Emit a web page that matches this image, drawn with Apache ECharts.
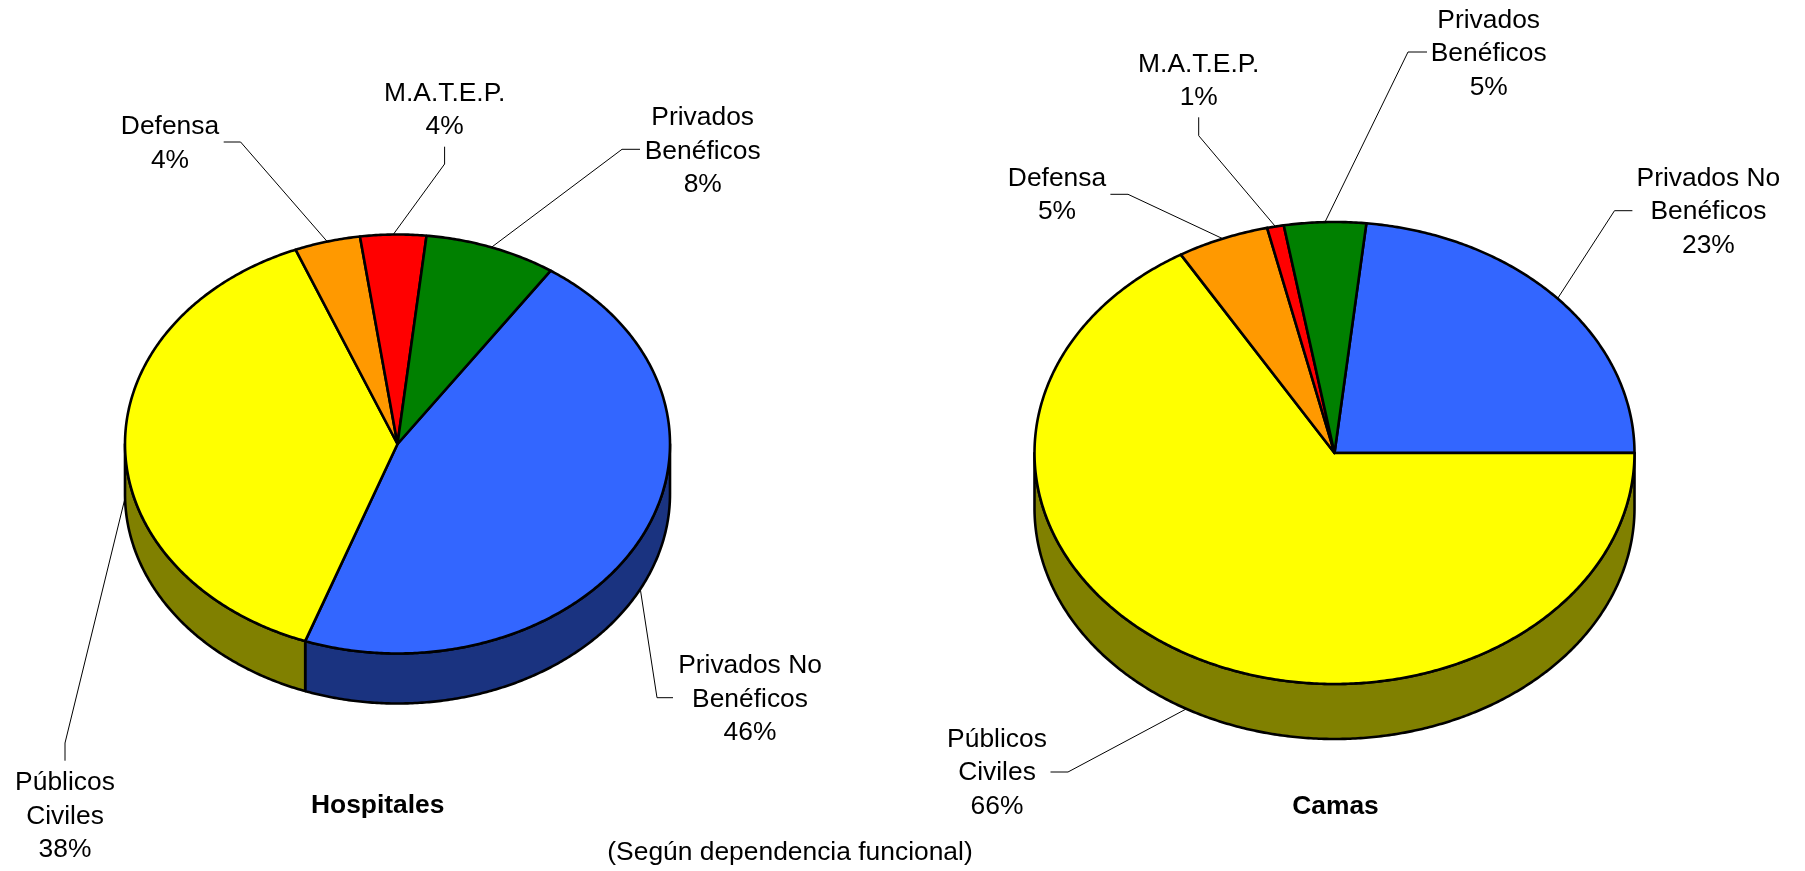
<!DOCTYPE html>
<html>
<head>
<meta charset="utf-8">
<style>html,body{margin:0;padding:0;background:#fff}#c{width:1805px;height:871px}</style>
<script src="https://cdn.jsdelivr.net/npm/echarts@6/dist/echarts.min.js"></script>
</head>
<body>
<div id="c"></div>
<script>
// ---- data ----
const categories = ['Privados No\nBenéficos', 'Públicos\nCiviles', 'Defensa', 'M.A.T.E.P.', 'Privados\nBenéficos'];
const hospitalShares = [46.0, 38.4, 3.9, 3.9, 7.8];
const hospitalLabels = ['46%', '38%', '4%', '4%', '8%'];
const bedShares = [23.3, 66.45, 4.95, 0.9, 4.4];
const bedLabels = ['23%', '66%', '5%', '1%', '5%'];
const chartTitles = ['Hospitales', 'Camas'];
const subtitle = '(Según dependencia funcional)';

// ---- styles and layout ----
const topColors = ['#3366FF', '#FFFF00', '#FF9900', '#FF0000', '#008000'];
const wallColors = ['#1A3380', '#808000', '#804C00', '#800000', '#004000'];
const FONT = '"Liberation Sans", Arial, sans-serif';
const FS = 26.4, LH = 33.5;

const hospitalLayout = {
  cx: 397.5, cy: 444, rx: 272.5, ry: 209.5, depth: 50, startAngle: 55.8,
  labels: [[750, 699.5], [65, 816.5], [170, 143.5], [444.6, 110], [702.7, 151.5]],
  leaders: [
    [[657, 697.7], [673, 697.7]],
    [[65, 743], [65, 760.7]],
    [[240.6, 142], [223.7, 142]],
    [[444.6, 164], [444.6, 146.7]],
    [[622, 149.3], [640, 149.3]]
  ]
};
const bedLayout = {
  cx: 1334.5, cy: 453, rx: 300, ry: 231, depth: 55, startAngle: 83.9,
  labels: [[1708.4, 212], [997, 773], [1057, 195], [1198.7, 81], [1488.7, 54]],
  leaders: [
    [[1614.5, 210.7], [1632.4, 210.7]],
    [[1068, 772], [1050.5, 772]],
    [[1128, 194.3], [1110.4, 194.3]],
    [[1198.7, 135.7], [1198.7, 117.3]],
    [[1408, 52], [1427, 52]]
  ]
};

function arcPoints(L, from, to, dy) {
  const pts = [];
  const steps = Math.max(2, Math.ceil(Math.abs(from - to) * 2));
  for (let i = 0; i <= steps; i++) {
    const a = (from + (to - from) * i / steps) * Math.PI / 180;
    pts.push([L.cx + L.rx * Math.cos(a), L.cy - L.ry * Math.sin(a) + dy]);
  }
  return pts;
}

function makeRenderer(shares, pctLabels, L) {
  const total = shares.reduce((s, v) => s + v, 0);
  const edge = { stroke: '#000', lineWidth: 2.6, lineJoin: 'round' };
  return function (params, api) {
    const i = api.value(1);
    let before = 0;
    for (let k = 0; k < i; k++) before += shares[k];
    const a0 = L.startAngle - before / total * 360;
    const a1 = a0 - api.value(0) / total * 360;
    const mid = (a0 + a1) / 2;
    const children = [];
    // front wall: the part of the slice on the lower half of the ellipse
    for (const [hi, lo] of [[0, -180], [-360, -540]]) {
      const from = Math.min(a0, hi), to = Math.max(a1, lo);
      if (from > to) {
        const pts = arcPoints(L, from, to, 0).concat(arcPoints(L, to, from, L.depth));
        children.push({ type: 'polygon', z2: 1, shape: { points: pts }, style: { fill: wallColors[i], ...edge } });
      }
    }
    // top face
    const topPts = [[L.cx, L.cy]].concat(arcPoints(L, a0, a1, 0));
    children.push({ type: 'polygon', z2: 2, shape: { points: topPts }, style: { fill: topColors[i], ...edge } });
    // leader line from the slice's outer edge
    const rad = mid * Math.PI / 180;
    const lower = Math.sin(rad) < 0;
    const anchor = [L.cx + L.rx * Math.cos(rad), L.cy - L.ry * Math.sin(rad) + (lower ? L.depth : 0)];
    children.push({
      type: 'polyline', z2: 3,
      shape: { points: [anchor].concat(L.leaders[i]) },
      style: { stroke: '#000', lineWidth: 1, fill: null }
    });
    // label
    children.push({
      type: 'text', z2: 4,
      style: {
        text: categories[i] + '\n' + pctLabels[i],
        x: L.labels[i][0], y: L.labels[i][1],
        fill: '#000', fontFamily: FONT, fontSize: FS, lineHeight: LH,
        align: 'center', verticalAlign: 'middle'
      }
    });
    return { type: 'group', children };
  };
}

function pieSeries(name, shares, pctLabels, L) {
  return {
    type: 'custom', name, coordinateSystem: 'none', silent: true, animation: false,
    clip: false,
    data: shares.map((v, i) => ({ name: categories[i], value: [v, i] })),
    renderItem: makeRenderer(shares, pctLabels, L)
  };
}

const chart = echarts.init(document.getElementById('c'), null, { renderer: 'canvas' });
chart.setOption({
  backgroundColor: '#fff',
  animation: false,
  title: [
    { text: chartTitles[0], left: 372.7, top: 801, textAlign: 'center', textVerticalAlign: 'middle',
      textStyle: { fontFamily: FONT, fontSize: FS, fontWeight: 'bold', color: '#000' } },
    { text: chartTitles[1], left: 1330.5, top: 802, textAlign: 'center', textVerticalAlign: 'middle',
      textStyle: { fontFamily: FONT, fontSize: FS, fontWeight: 'bold', color: '#000' } },
    { text: subtitle, left: 785, top: 848, textAlign: 'center', textVerticalAlign: 'middle',
      textStyle: { fontFamily: FONT, fontSize: FS, fontWeight: 'normal', color: '#000' } }
  ],
  series: [
    pieSeries(chartTitles[0], hospitalShares, hospitalLabels, hospitalLayout),
    pieSeries(chartTitles[1], bedShares, bedLabels, bedLayout)
  ]
});
</script>
</body>
</html>
